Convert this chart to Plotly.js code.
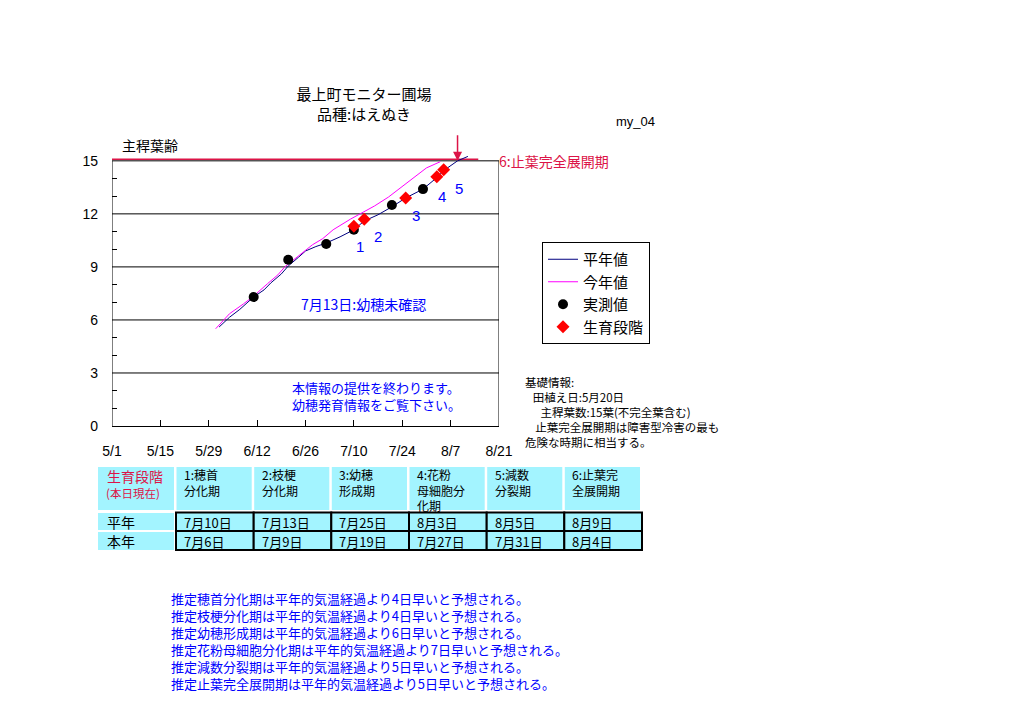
<!DOCTYPE html>
<html><head><meta charset="utf-8">
<script src="https://cdn.plot.ly/plotly-3.0.1.min.js"></script>
<style>body{margin:0;background:#fff}#chart{width:1024px;height:724px}</style>
</head><body><div id="chart"></div>
<script>
// ---- data ----
const avgDates = ['2004-06-01','2004-06-04','2004-06-07','2004-06-09','2004-06-11','2004-06-14','2004-06-16','2004-06-19','2004-06-21','2004-06-24','2004-06-26','2004-06-29','2004-07-02','2004-07-06','2004-07-10','2004-07-13','2004-07-17','2004-07-21','2004-07-25','2004-07-30','2004-08-03','2004-08-05','2004-08-09','2004-08-12'];
const avgLeaf  = [5.6, 6.15, 6.6, 6.95, 7.3, 7.7, 8.1, 8.6, 9.05, 9.55, 9.9, 10.15, 10.35, 10.7, 11.1, 11.6, 11.95, 12.4, 12.9, 13.4, 14.05, 14.45, 15.0, 15.25];
const curDates = ['2004-05-31','2004-06-04','2004-06-08','2004-06-11','2004-06-15','2004-06-18','2004-06-20','2004-06-25','2004-06-28','2004-07-01','2004-07-04','2004-07-09','2004-07-13','2004-07-16','2004-07-20','2004-07-23','2004-07-26','2004-07-29','2004-07-31','2004-08-04'];
const curLeaf  = [5.5, 6.35, 6.9, 7.35, 8.05, 8.55, 9.0, 9.8, 10.25, 10.6, 11.1, 11.7, 12.15, 12.45, 12.95, 13.4, 13.9, 14.3, 14.6, 14.95];
const obsDates = ['2004-06-11','2004-06-21','2004-07-02','2004-07-10','2004-07-21','2004-07-30'];
const obsLeaf  = [7.3, 9.4, 10.3, 11.1, 12.5, 13.4];
const stageDates = ['2004-07-10','2004-07-13','2004-07-25','2004-08-03','2004-08-05'];
const stageLeaf  = [11.3, 11.7, 12.9, 14.1, 14.5];
const stageNums  = ['1','2','3','4','5'];
const flagLeafDate = '2004-08-09';
const flagLeafNum = 15;
const xTickVals = ['2004-05-01','2004-05-15','2004-05-29','2004-06-12','2004-06-26','2004-07-10','2004-07-24','2004-08-07','2004-08-21'];
const xTickText = ['5/1','5/15','5/29','6/12','6/26','7/10','7/24','8/7','8/21'];
const yTickVals = [0,3,6,9,12,15];
const yMinorVals = [1,2,4,5,7,8,10,11,13,14];
const gridVals = [3,6,9,12];

const stageHeaders = ['1:穂首<br>分化期','2:枝梗<br>分化期','3:幼穂<br>形成期','4:花粉<br>母細胞分<br>化期','5:減数<br>分裂期','6:止葉完<br>全展開期'];
const rowLabels = ['平年','本年'];
const normalStage = ['7月10日','7月13日','7月25日','8月3日','8月5日','8月9日'];
const thisStage   = ['7月6日','7月9日','7月19日','7月27日','7月31日','8月4日'];
const infoLines = ['基礎情報:',
 '&nbsp;&nbsp;&nbsp;田植え日:5月20日',
 '&nbsp;&nbsp;&nbsp;&nbsp;&nbsp;&nbsp;主稈葉数:15葉(不完全葉含む)',
 '&nbsp;&nbsp;&nbsp;&nbsp;止葉完全展開期は障害型冷害の最も',
 '危険な時期に相当する。'];
const forecastLines = [
 '推定穂首分化期は平年的気温経過より4日早いと予想される。',
 '推定枝梗分化期は平年的気温経過より4日早いと予想される。',
 '推定幼穂形成期は平年的気温経過より6日早いと予想される。',
 '推定花粉母細胞分化期は平年的気温経過より7日早いと予想される。',
 '推定減数分裂期は平年的気温経過より5日早いと予想される。',
 '推定止葉完全展開期は平年的気温経過より5日早いと予想される。'];

// ---- layout helpers ----
const L=112, R=499, T=152, B=426;
const X = p => (p - L) / (R - L);
const Y = p => (B - p) / (B - T);
const JP = 'Noto Sans CJK JP';
const CRIMSON = '#dc1447';
const BLUE = '#0000ff';
const CYAN = '#a3f4ff';
function ann(text, px, py, size, color, extra){
  return Object.assign({xref:'paper', yref:'paper', x:X(px), y:Y(py), text:text, showarrow:false,
    xanchor:'left', yanchor:'middle', align:'left', font:{family:JP, size:size, color:color||'#000'}}, extra||{});
}

const traces = [
 {x:avgDates, y:avgLeaf, mode:'lines', name:'平年値', line:{color:'#000080', width:1}},
 {x:curDates, y:curLeaf, mode:'lines', name:'今年値', line:{color:'#ff00ff', width:1}},
 {x:obsDates, y:obsLeaf, mode:'markers', name:'実測値', marker:{color:'#000', size:10, symbol:'circle'}},
 {x:stageDates, y:stageLeaf, mode:'markers', name:'生育段階', marker:{color:'#ff0000', size:10, symbol:'diamond'}}
];

const shapes = [];
gridVals.forEach(v => shapes.push({type:'line', xref:'x', yref:'y', x0:xTickVals[0], x1:xTickVals[8], y0:v, y1:v, line:{color:'#000', width:1}, layer:'below'}));
shapes.push({type:'line', xref:'x', yref:'y', x0:xTickVals[0], x1:xTickVals[8], y0:15, y1:15, line:{color:'#000', width:1}, layer:'below'});
shapes.push({type:'line', xref:'x', yref:'y', x0:xTickVals[0], x1:'2004-08-15', y0:15.09, y1:15.09, line:{color:CRIMSON, width:1.5}, layer:'below'});
shapes.push({type:'line', xref:'x', yref:'y', x0:xTickVals[0], x1:xTickVals[0], y0:0, y1:15, line:{color:'#000', width:1}});
shapes.push({type:'line', xref:'x', yref:'y', x0:xTickVals[8], x1:xTickVals[8], y0:0, y1:15, line:{color:'#000', width:1}});

// table
const colEdges = [176, 253.7, 331.3, 409, 486.7, 564.3, 642];
const hdrTop=467, hdrBot=510, r1Top=512.5, r1Bot=531, r2Bot=550;
function rect(x0,y0,x1,y1,fill,lineW){
  return {type:'rect', xref:'paper', yref:'paper', x0:X(x0), x1:X(x1), y0:Y(y1), y1:Y(y0), fillcolor:fill,
    line:{color:'#000', width:lineW||0}};
}
shapes.push(rect(98, hdrTop, 174, hdrBot, CYAN));
shapes.push(rect(98, 513, 174, 530, CYAN));
shapes.push(rect(98, 532, 174, 550, CYAN));
for(let i=0;i<6;i++){
  shapes.push(rect(colEdges[i]+0.5, hdrTop, colEdges[i+1]-2, hdrBot, CYAN));
  shapes.push(rect(colEdges[i], r1Top, colEdges[i+1], r1Bot, CYAN, 2));
  shapes.push(rect(colEdges[i], r1Bot, colEdges[i+1], r2Bot, CYAN, 2));
}

const annotations = [
 ann('my_04', 614, 121, 13, '#000', {font:{family:'Liberation Sans', size:13, color:'#000'}}),
 ann('主稈葉齢', 120, 145, 14),
 ann('6:止葉完全展開期', 497, 161, 14, CRIMSON),
 {x:flagLeafDate, y:flagLeafNum, xref:'x', yref:'y', text:'', showarrow:true, ax:0, ay:-27, arrowhead:2, arrowsize:1.2, arrowwidth:1.5, arrowcolor:CRIMSON, standoff:0},
 ann('7月13日:幼穂未確認', 299, 304, 14, BLUE),
 ann('本情報の提供を終わります。', 290, 387, 13, BLUE),
 ann('幼穂発育情報をご覧下さい。', 290, 404, 13, BLUE),
 ann(infoLines.join('<br>'), 523, 372.3, 11.5, '#000', {yanchor:'top'}),
 ann('生育段階', 105, 476, 14, CRIMSON),
 ann('(本日現在)', 104, 492.5, 11.5, CRIMSON),
 ann(forecastLines.join('<br>'), 169, 587, 13, BLUE, {yanchor:'top'}),
];
const numShift = [[6,-20],[14,-17],[10,-18],[5,-20],[15,-19]];
stageNums.forEach((t,i) => annotations.push({x:stageDates[i], y:stageLeaf[i], xref:'x', yref:'y', text:t, showarrow:false,
  xshift:numShift[i][0], yshift:numShift[i][1], font:{family:'Liberation Sans', size:15, color:BLUE}}));
stageHeaders.forEach((t,i) => annotations.push(ann(t, colEdges[i]+6, 464, 12, '#000', {yanchor:'top'})));
rowLabels.forEach((t,i) => annotations.push(ann(t, 105, i===0?522:541, 14)));
normalStage.forEach((t,i) => annotations.push(ann(t, colEdges[i]+6, 522, 13)));
thisStage.forEach((t,i) => annotations.push(ann(t, colEdges[i]+6, 541, 13)));

const layout = {
  width:1024, height:724, autosize:false,
  margin:{l:L, r:1024-R, t:T, b:724-B, pad:0},
  paper_bgcolor:'#fff', plot_bgcolor:'rgba(0,0,0,0)',
  title:{text:'最上町モニター圃場<br>品種:はえぬき', x:364/1024, xanchor:'center', xref:'container', yref:'container', y:(724-100)/724, yanchor:'top', font:{family:JP, size:15, color:'#000'}},
  showlegend:true,
  legend:{x:X(542), y:Y(242), xanchor:'left', yanchor:'top', bordercolor:'#000', borderwidth:1, bgcolor:'#fff', font:{family:JP, size:15, color:'#000'}},
  xaxis:{type:'date', range:[xTickVals[0], xTickVals[8]], tickmode:'array', tickvals:xTickVals, ticktext:xTickText,
    ticks:'inside', ticklen:6, tickcolor:'#000', showgrid:false, zeroline:false, showline:true, linecolor:'#000', linewidth:1,
    ticklabelstandoff:12, tickfont:{family:'Liberation Sans', size:14, color:'#000'}, fixedrange:true},
  yaxis:{range:[0,15.5], tickmode:'array', tickvals:yTickVals, ticks:'', showgrid:false, zeroline:false, showline:false,
    minor:{tickmode:'array', tickvals:yMinorVals, ticks:'inside', ticklen:5, tickcolor:'#000', showgrid:false},
    ticklabelstandoff:13, tickfont:{family:'Liberation Sans', size:14, color:'#000'}, fixedrange:true},
  shapes:shapes, annotations:annotations
};
Plotly.newPlot('chart', traces, layout, {displayModeBar:false, staticPlot:true});
</script></body></html>
